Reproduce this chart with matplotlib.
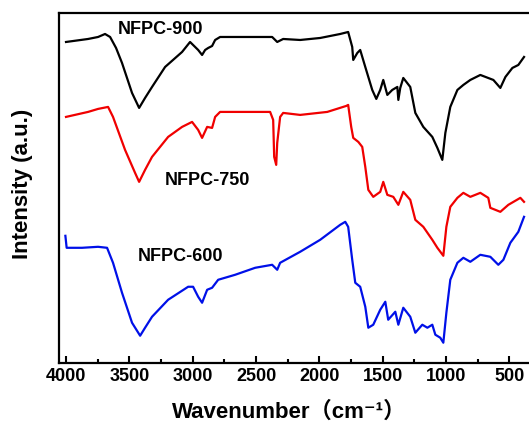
import matplotlib
matplotlib.use("Agg")
import matplotlib.pyplot as plt
from matplotlib.ticker import MultipleLocator

# ---- data (wavenumber in cm^-1, intensity in arbitrary units) ----
w_900 = [4000, 3826, 3747, 3692, 3652, 3605, 3558, 3479, 3423, 3376, 3321, 3218, 3084, 3021,
         2957, 2926, 2902, 2878, 2847, 2823, 2784, 2547, 2373, 2333, 2286, 2152, 1994, 1836,
         1773, 1741, 1733, 1701, 1678, 1638, 1583, 1551, 1520, 1496, 1464, 1425, 1385, 1377,
         1362, 1338, 1283, 1243, 1180, 1109, 1069, 1030, 1006, 967, 911, 864, 809, 730, 627,
         572, 532, 477, 430, 385]
i_900 = [321, 324, 326, 329, 326, 315, 300, 270, 255, 265, 276, 296, 311, 321,
         313, 308, 313, 315, 317, 323, 326, 326, 326, 321, 324, 323, 325, 329,
         331, 316, 303, 310, 313, 296, 273, 264, 273, 283, 268, 273, 276, 263,
         275, 285, 276, 250, 236, 226, 215, 203, 230, 256, 273, 278, 283, 288, 283,
         275, 286, 295, 298, 306]

w_750 = [4000, 3826, 3747, 3668, 3629, 3534, 3455, 3423, 3376, 3321, 3194, 3084, 3005, 2957,
         2926, 2886, 2847, 2823, 2784, 2389, 2365, 2357, 2341, 2333, 2310, 2286, 2152, 1938,
         1788, 1773, 1749, 1733, 1693, 1662, 1638, 1614, 1575, 1520, 1496, 1464, 1417, 1377,
         1338, 1283, 1243, 1180, 1109, 1069, 1022, 998, 967, 911, 864, 809, 730, 667, 651,
         572, 509, 414, 385]
i_750 = [246, 251, 254, 256, 246, 213, 190, 181, 193, 206, 226, 236, 241, 233,
         225, 236, 235, 246, 251, 251, 243, 206, 198, 220, 246, 250, 248, 251,
         257, 258, 236, 225, 221, 216, 196, 173, 166, 171, 181, 168, 166, 158,
         171, 163, 143, 136, 123, 115, 107, 136, 156, 165, 170, 166, 170, 165, 155,
         151, 158, 165, 161]

w_600 = [4005, 3995, 3874, 3747, 3676, 3629, 3558, 3479, 3415, 3376, 3321, 3194, 3036, 2997,
         2957, 2926, 2886, 2847, 2799, 2665, 2507, 2373, 2333, 2310, 2152, 1994, 1836, 1796,
         1773, 1741, 1717, 1678, 1638, 1614, 1575, 1520, 1480, 1457, 1401, 1377, 1338, 1283,
         1243, 1188, 1148, 1109, 1085, 1046, 1022, 998, 967, 911, 864, 809, 730, 651, 588,
         548, 493, 430, 385]
i_600 = [127, 115, 115, 116, 115, 100, 70, 40, 27, 35, 46, 63, 76, 76,
         66, 60, 73, 75, 83, 88, 95, 98, 93, 100, 111, 123, 138, 141,
         136, 103, 80, 76, 56, 35, 38, 53, 61, 43, 51, 38, 55, 46,
         30, 38, 35, 38, 28, 25, 20, 50, 83, 100, 105, 101, 108, 106, 98,
         103, 120, 131, 146]

labels = ["NFPC-900", "NFPC-750", "NFPC-600"]
xticks = [4000, 3500, 3000, 2500, 2000, 1500, 1000, 500]

W, H = 529, 429
fig = plt.figure(figsize=(W / 100, H / 100), dpi=100)
fig.patch.set_facecolor("white")
ax = fig.add_axes([59.3 / W, 1 - 362.7 / H, (531 - 59.3) / W, (362.7 - 13) / H])

bold = dict(family=["Liberation Sans", "Noto Sans CJK SC", "DejaVu Sans"], weight="bold")

ax.plot(w_900, i_900, color="black", lw=1.6, solid_joinstyle="round")
ax.plot(w_750, i_750, color="#f00000", lw=1.6, solid_joinstyle="round")
ax.plot(w_600, i_600, color="#0010e8", lw=1.6, solid_joinstyle="round")

ax.set_xlim(4053, 330)
ax.set_ylim(0, 350)

ax.text(3257, 333, labels[0], ha="center", va="center", fontsize=13, **bold)
ax.text(2886, 182, labels[1], ha="center", va="center", fontsize=13, **bold)
ax.text(3100, 106, labels[2], ha="center", va="center", fontsize=13, **bold)

ax.set_xticks(xticks)
ax.set_xticklabels([str(t) for t in xticks])
ax.xaxis.set_minor_locator(MultipleLocator(250))
ax.set_yticks([])
ax.tick_params(axis="x", which="major", direction="in", length=5, width=1.5, pad=4,
               labelsize=13)
ax.tick_params(axis="x", which="minor", direction="in", length=3, width=1.5)
for lab in ax.get_xticklabels():
    lab.set_fontweight("bold")
    lab.set_family(bold["family"])

for s in ["left", "bottom", "top", "right"]:
    ax.spines[s].set_linewidth(1.6)

ax.set_xlabel("Wavenumber（cm⁻¹）", fontsize=16, **bold)
ax.xaxis.set_label_coords(0.488, -0.112)
ax.xaxis.label.set_va("top")
ax.set_ylabel("Intensity (a.u.)", fontsize=16, **bold)
ax.yaxis.set_label_coords(-0.056, 0.511)

fig.savefig("out.png", dpi=100)
